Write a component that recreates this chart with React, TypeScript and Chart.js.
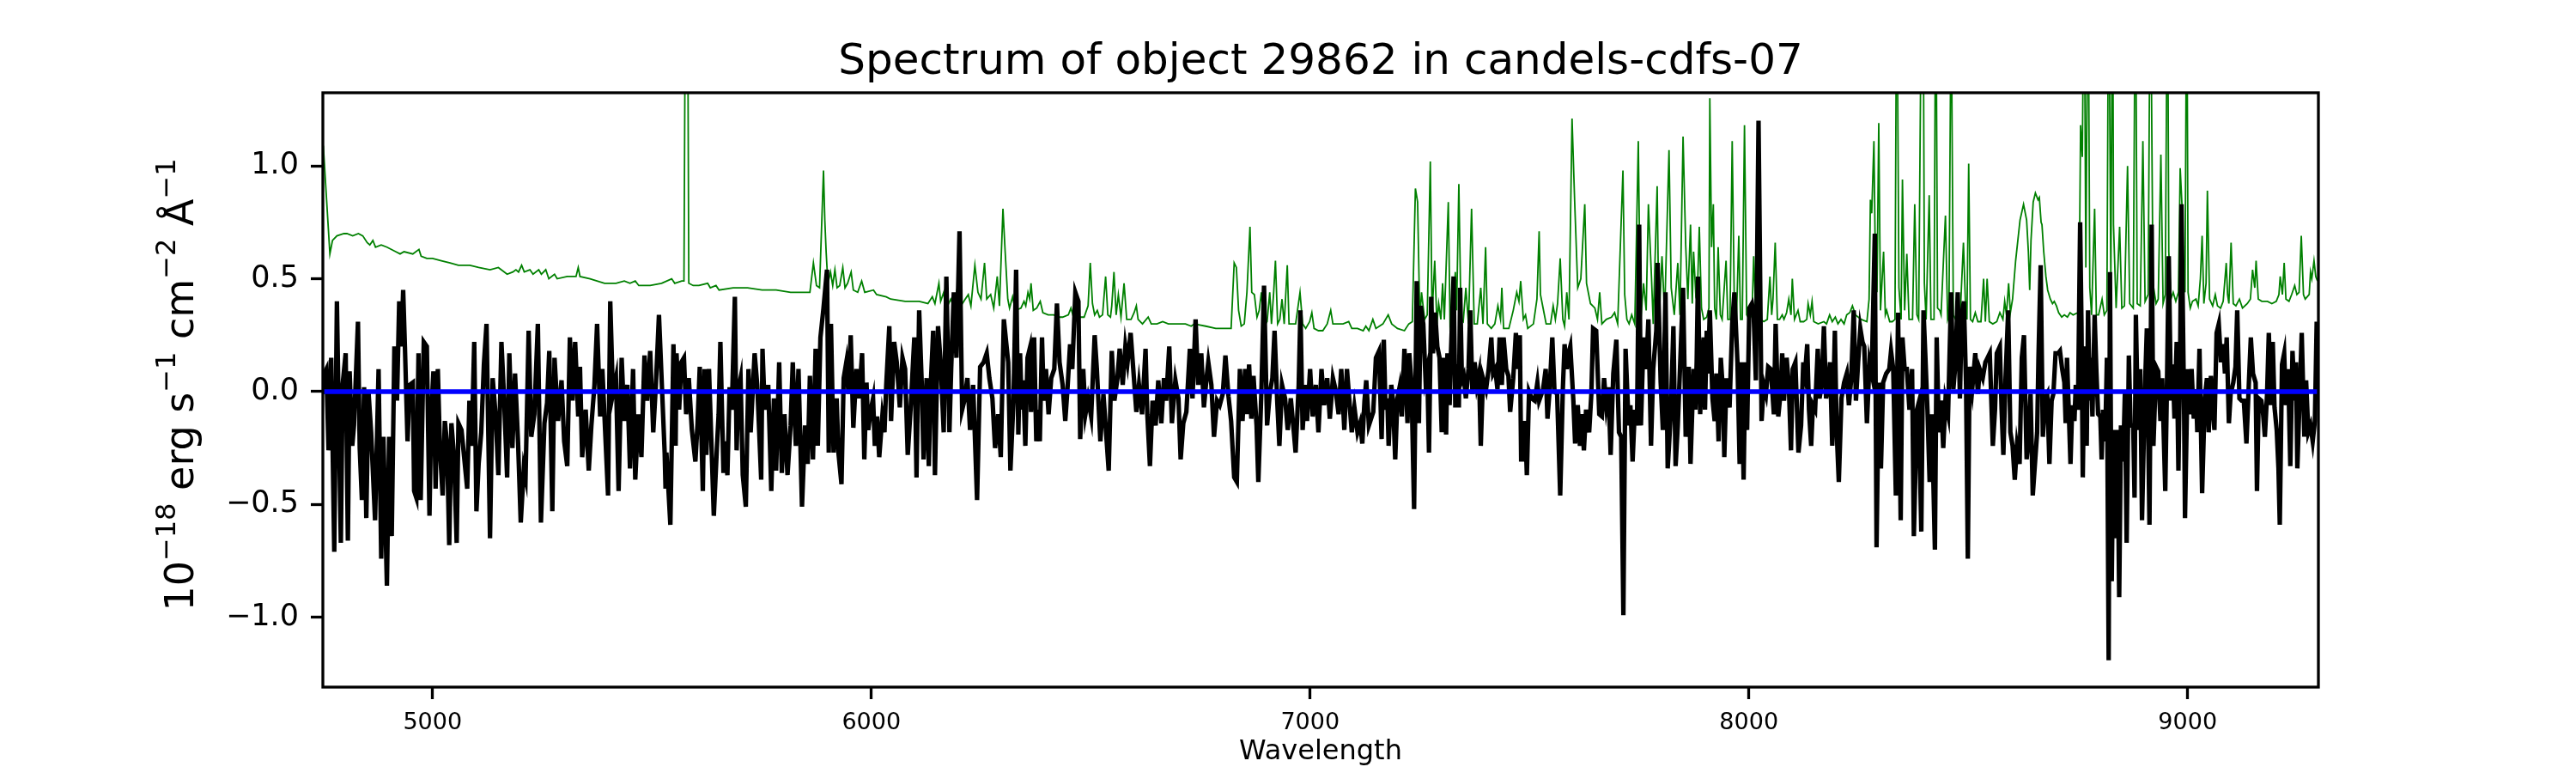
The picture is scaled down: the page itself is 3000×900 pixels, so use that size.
import { useEffect, useRef } from 'react';
import Chart from 'chart.js/auto';

const FONT = '"DejaVu Sans", sans-serif';

const TITLE = 'Spectrum of object 29862 in candels-cdfs-07';
const X_LABEL = 'Wavelength';
// y label pieces: [text, isSuperscript]
const Y_LABEL_PARTS: [string, boolean][] = [
  ['10', false],
  ['\u221218', true],
  [' erg s', false],
  ['\u22121', true],
  [' cm', false],
  ['\u22122', true],
  [' \u00c5', false],
  ['\u22121', true],
];

const X_MIN = 4750;
const X_MAX = 9298;
const Y_MIN = -1.309;
const Y_MAX = 1.324;

const X_TICKS = [5000, 6000, 7000, 8000, 9000];
const Y_TICKS = [-1.0, -0.5, 0.0, 0.5, 1.0];

// horizontal reference line at zero flux
const ZERO_LINE: [number, number][] = [
  [4750, 0],
  [9298, 0],
];

// object spectrum [wavelength, flux]
const SPECTRUM: [number, number][] = [
  [4751, -0.01], [4753, 0.08], [4758, 0.1], [4763, -0.26], [4769, 0.15], [4776, -0.71], [4782, 0.4],
  [4791, -0.67], [4795, 0.03], [4802, 0.17], [4807, -0.66], [4811, 0.09], [4817, -0.24], [4821, -0.15],
  [4830, 0.31], [4834, -0.25], [4839, -0.48], [4844, 0.02], [4849, -0.56], [4854, 0], [4860, -0.18],
  [4869, -0.57], [4877, 0.1], [4883, -0.74], [4888, -0.2], [4896, -0.86], [4901, -0.2], [4907, -0.64],
  [4913, 0.2], [4919, -0.04], [4924, 0.4], [4929, 0.2], [4933, 0.45], [4937, 0.2], [4943, -0.22],
  [4948, 0.03], [4955, 0.04], [4958, -0.44], [4963, -0.47], [4968, 0.17], [4973, -0.48], [4980, 0.22],
  [4987, 0.2], [4993, -0.55], [4997, -0.1], [5002, 0.09], [5007, -0.43], [5012, 0.1], [5017, -0.26],
  [5023, -0.46], [5028, -0.13], [5033, -0.23], [5038, -0.68], [5043, -0.14], [5049, -0.29], [5055, -0.67],
  [5059, -0.14], [5066, -0.17], [5072, -0.29], [5079, -0.43], [5084, -0.04], [5089, -0.24], [5095, 0.22],
  [5100, -0.53], [5105, -0.32], [5111, -0.18], [5117, 0.12], [5123, 0.3], [5131, -0.65], [5137, 0.06],
  [5144, -0.11], [5150, -0.37], [5157, 0.22], [5163, -0.03], [5170, -0.38], [5175, 0.17], [5182, -0.25],
  [5188, 0.08], [5195, -0.23], [5201, -0.58], [5208, -0.34], [5212, -0.38], [5219, 0.27], [5225, -0.2],
  [5232, -0.1], [5240, 0.3], [5247, -0.58], [5255, -0.14], [5261, -0.05], [5266, 0.18], [5273, -0.53],
  [5278, 0.15], [5286, -0.13], [5294, 0.05], [5300, -0.22], [5307, -0.33], [5313, 0.24], [5319, -0.04],
  [5325, 0.22], [5332, -0.11], [5336, 0.11], [5341, -0.29], [5349, -0.08], [5356, -0.35], [5362, -0.15],
  [5369, 0.03], [5375, 0.3], [5382, -0.11], [5387, 0.1], [5400, -0.46], [5405, 0.4], [5411, -0.01],
  [5418, 0.06], [5424, -0.44], [5431, 0.15], [5437, -0.13], [5444, 0.03], [5450, -0.34], [5457, 0.1],
  [5462, -0.39], [5469, -0.1], [5476, -0.29], [5483, 0.16], [5489, -0.04], [5496, 0.18], [5503, -0.18],
  [5509, 0.03], [5516, 0.34], [5529, -0.27], [5531, -0.43], [5533, -0.27], [5542, -0.59], [5549, 0.21],
  [5554, -0.24], [5556, 0.17], [5562, -0.08], [5567, 0.13], [5573, 0.15], [5578, -0.1], [5584, 0.06],
  [5591, -0.17], [5599, -0.31], [5604, -0.14], [5609, 0.11], [5616, -0.44], [5620, 0.1], [5624, -0.28],
  [5630, 0.1], [5641, -0.55], [5648, -0.25], [5652, -0.1], [5656, 0.22], [5663, -0.36], [5667, -0.22],
  [5672, -0.37], [5677, 0.02], [5682, -0.08], [5689, 0.42], [5693, -0.26], [5697, 0.01], [5702, 0.06],
  [5707, -0.37], [5714, -0.51], [5720, 0.1], [5725, -0.18], [5734, 0.17], [5740, 0.03], [5749, -0.39],
  [5752, 0.19], [5757, -0.08], [5765, 0.03], [5772, -0.44], [5778, -0.03], [5783, -0.35], [5790, 0.13],
  [5796, -0.36], [5802, -0.1], [5809, -0.37], [5816, -0.15], [5821, 0.13], [5828, -0.24], [5834, 0.1],
  [5842, -0.51], [5849, -0.15], [5855, -0.32], [5860, 0.07], [5867, -0.3], [5873, 0.19], [5878, -0.24],
  [5884, 0.24], [5891, 0.37], [5899, 0.54], [5903, -0.27], [5908, 0.3], [5914, -0.27], [5921, -0.03],
  [5925, -0.27], [5932, -0.41], [5937, 0.06], [5943, 0.13], [5948, -0.01], [5953, 0.25], [5959, -0.16],
  [5966, 0.1], [5972, -0.03], [5979, 0.17], [5984, -0.3], [5989, 0.04], [5993, -0.17], [5998, -0.09],
  [6004, -0.03], [6008, -0.24], [6013, -0.11], [6018, -0.29], [6025, -0.11], [6030, -0.18], [6034, 0.03],
  [6041, 0.29], [6045, -0.13], [6052, 0.22], [6058, 0.13], [6065, -0.07], [6071, 0.15], [6077, 0.1],
  [6083, -0.28], [6090, -0.06], [6098, 0.24], [6103, -0.38], [6109, 0.36], [6115, 0.03], [6119, -0.3],
  [6126, 0.06], [6131, -0.33], [6135, 0.01], [6141, 0.27], [6145, -0.37], [6152, 0.29], [6158, 0.13],
  [6165, -0.18], [6171, 0.51], [6178, -0.18], [6182, 0.1], [6188, 0.44], [6194, 0.15], [6201, 0.71],
  [6207, -0.08], [6212, -0.04], [6219, 0.06], [6225, -0.17], [6232, 0.03], [6241, -0.48], [6248, 0.11],
  [6256, 0.13], [6263, 0.17], [6269, 0.06], [6276, -0.03], [6282, -0.25], [6289, -0.1], [6295, -0.29],
  [6302, 0.32], [6312, 0.13], [6317, -0.35], [6324, -0.04], [6330, 0.54], [6335, -0.19], [6339, 0.17],
  [6343, -0.08], [6346, 0.05], [6351, -0.24], [6356, 0.15], [6361, 0.19], [6364, -0.09], [6371, 0.24],
  [6376, -0.22], [6379, -0.08], [6384, -0.22], [6389, 0.24], [6393, -0.04], [6398, 0.1], [6404, -0.1],
  [6410, 0.06], [6417, 0.1], [6423, 0.39], [6429, 0.13], [6436, 0.03], [6442, -0.13], [6447, 0.01],
  [6453, 0.21], [6458, 0.1], [6465, 0.44], [6472, 0.4], [6476, -0.21], [6483, 0.1], [6488, -0.1],
  [6494, -0.03], [6501, -0.11], [6509, 0.25], [6514, 0.1], [6522, -0.22], [6529, -0.01], [6535, -0.18],
  [6541, -0.35], [6548, 0.18], [6554, -0.04], [6561, 0.06], [6566, 0.19], [6573, 0.03], [6579, 0.2],
  [6584, 0.13], [6591, 0.26], [6597, 0.1], [6604, -0.09], [6610, 0.03], [6617, -0.1], [6625, 0.19],
  [6629, -0.1], [6635, -0.33], [6641, -0.04], [6648, -0.15], [6654, 0.05], [6661, -0.14], [6667, 0.06],
  [6672, -0.04], [6679, 0.2], [6685, -0.14], [6693, 0.05], [6700, -0.03], [6705, -0.3], [6711, -0.14],
  [6718, -0.09], [6726, 0.19], [6732, -0.03], [6739, 0.32], [6745, 0.03], [6752, 0.17], [6758, -0.07],
  [6764, 0.06], [6768, 0.13], [6775, 0.03], [6781, -0.2], [6788, -0.04], [6794, -0.06], [6801, -0.01],
  [6807, 0.16], [6814, -0.02], [6820, -0.13], [6827, -0.38], [6833, -0.4], [6840, 0.1], [6846, -0.13],
  [6852, 0.1], [6856, -0.1], [6861, 0.12], [6866, -0.12], [6871, 0.07], [6878, -0.15], [6882, -0.4],
  [6889, 0], [6895, 0.47], [6902, -0.15], [6908, -0.01], [6914, 0.06], [6919, 0.27], [6925, -0.04],
  [6930, -0.24], [6936, 0.03], [6943, -0.03], [6949, -0.17], [6956, -0.03], [6963, -0.18], [6967, -0.27],
  [6974, 0.03], [6978, 0.36], [6983, -0.17], [6989, 0.03], [6993, -0.13], [7000, 0.1], [7006, -0.11],
  [7013, 0.03], [7019, -0.18], [7026, 0.1], [7032, -0.06], [7039, 0.06], [7045, -0.12], [7052, 0.06],
  [7058, 0.01], [7065, -0.1], [7071, 0.1], [7078, -0.17], [7084, 0.1], [7095, -0.18], [7101, -0.07],
  [7108, -0.18], [7114, -0.14], [7119, -0.23], [7124, -0.04], [7128, 0.05], [7134, -0.15], [7144, -0.09],
  [7150, 0.15], [7157, 0.18], [7163, -0.21], [7168, 0.23], [7172, -0.08], [7176, -0.03], [7179, -0.24],
  [7185, 0.03], [7189, -0.04], [7194, -0.3], [7199, -0.03], [7204, 0.02], [7209, -0.11], [7215, 0.19],
  [7222, -0.14], [7226, 0.17], [7231, 0.04], [7237, -0.52], [7243, 0.49], [7248, -0.14], [7252, 0.38],
  [7258, 0.3], [7263, 0.06], [7267, 0.1], [7271, -0.27], [7276, 0.42], [7280, 0.17], [7285, 0.35],
  [7290, 0.2], [7295, 0.15], [7300, -0.18], [7305, 0.15], [7310, -0.19], [7313, 0.17], [7318, -0.06],
  [7321, 0.17], [7327, 0.51], [7331, -0.07], [7334, 0.12], [7339, -0.07], [7342, 0.46], [7346, 0.05],
  [7350, 0.07], [7355, -0.03], [7361, 0.1], [7365, 0.36], [7370, -0.01], [7375, 0.13], [7380, 0.03],
  [7385, 0.08], [7389, -0.24], [7394, 0.06], [7401, 0.01], [7407, 0.1], [7413, 0.24], [7417, 0.08],
  [7422, 0.1], [7427, 0.01], [7432, 0.24], [7437, 0.03], [7441, 0.24], [7447, 0.1], [7452, 0.07],
  [7456, -0.09], [7463, 0.06], [7469, 0.26], [7474, 0.1], [7478, 0.25], [7481, -0.3], [7486, -0.3],
  [7490, -0.13], [7494, -0.37], [7499, 0], [7505, -0.03], [7512, -0.04], [7518, 0.04], [7522, -0.04],
  [7531, 0.01], [7537, 0.1], [7541, -0.12], [7546, 0.01], [7552, 0.24], [7557, 0], [7563, -0.01],
  [7570, -0.46], [7576, 0.01], [7580, 0.21], [7585, 0.1], [7589, 0.17], [7593, 0.2], [7600, -0.04],
  [7604, -0.23], [7610, -0.06], [7615, -0.24], [7619, -0.1], [7624, -0.26], [7629, -0.08], [7636, -0.18],
  [7641, -0.01], [7645, 0.28], [7652, 0.27], [7659, -0.1], [7665, -0.11], [7670, 0.06], [7675, -0.06],
  [7680, 0.02], [7685, -0.28], [7691, 0.08], [7698, 0.23], [7704, -0.18], [7709, -0.2], [7714, -0.99],
  [7719, 0.19], [7726, -0.15], [7730, -0.06], [7735, -0.31], [7740, -0.08], [7745, -0.15], [7750, 0.74],
  [7754, -0.15], [7760, 0.24], [7766, 0.1], [7771, 0.32], [7777, -0.24], [7782, 0.1], [7789, 0.27],
  [7792, 0.57], [7799, 0.04], [7804, -0.17], [7810, 0.44], [7815, -0.34], [7822, -0.1], [7828, 0.29],
  [7833, -0.33], [7838, -0.15], [7843, 0.1], [7850, 0.46], [7856, -0.2], [7863, 0.11], [7867, -0.32],
  [7874, 0.1], [7878, -0.08], [7881, 0.13], [7884, 0.51], [7889, -0.1], [7894, 0.15], [7897, 0.24],
  [7900, -0.08], [7904, 0.27], [7907, 0.08], [7911, 0.36], [7917, -0.03], [7922, -0.13], [7926, 0.08],
  [7931, -0.22], [7936, 0.15], [7941, 0], [7944, -0.29], [7949, 0.06], [7956, -0.07], [7962, 0.3],
  [7967, 0.44], [7974, 0.13], [7979, -0.32], [7983, 0.13], [7988, -0.39], [7992, 0.13], [7996, -0.17],
  [8001, 0.37], [8007, 0.39], [8011, 0.34], [8016, 0.05], [8022, 1.2], [8029, -0.13], [8034, 0.03],
  [8039, -0.01], [8044, 0.11], [8050, 0.1], [8057, -0.1], [8061, 0.3], [8067, -0.11], [8072, -0.01],
  [8076, 0.17], [8080, -0.04], [8086, 0.15], [8091, 0.03], [8096, -0.26], [8100, 0.1], [8106, 0.13],
  [8113, -0.27], [8119, -0.15], [8124, 0.13], [8128, 0.08], [8133, 0.21], [8137, -0.08], [8142, -0.24],
  [8146, -0.06], [8151, -0.08], [8157, 0.19], [8161, -0.03], [8166, 0.03], [8171, 0.29], [8176, -0.03],
  [8181, 0.03], [8185, 0.13], [8190, -0.24], [8196, 0.27], [8200, -0.17], [8205, -0.4], [8211, -0.03],
  [8217, 0.04], [8223, 0.08], [8228, -0.06], [8233, 0.05], [8239, 0.36], [8244, -0.04], [8249, 0.13],
  [8254, 0.28], [8259, 0.22], [8263, 0.2], [8269, -0.14], [8275, 0.13], [8280, 0.08], [8287, 0.7],
  [8291, -0.69], [8296, 0.04], [8301, -0.34], [8306, 0.04], [8313, 0.08], [8320, 0.1], [8324, 0.18],
  [8329, 0.1], [8335, -0.46], [8340, 0.35], [8346, -0.57], [8350, 0.24], [8355, 0.1], [8360, 0.1],
  [8366, -0.08], [8372, 0.1], [8376, -0.64], [8383, -0.08], [8387, -0.05], [8393, -0.62], [8398, 0.36],
  [8402, 0.17], [8407, -0.08], [8412, -0.4], [8417, -0.1], [8424, -0.7], [8428, 0.24], [8433, -0.18],
  [8438, -0.04], [8443, -0.25], [8448, -0.04], [8454, -0.1], [8461, 0.44], [8466, 0.01], [8471, 0.13],
  [8476, 0.44], [8481, -0.03], [8485, 0.34], [8490, 0.4], [8495, 0.03], [8499, -0.74], [8503, 0.11],
  [8509, 0.01], [8513, 0.1], [8516, 0.17], [8522, -0.01], [8526, 0.1], [8533, 0.06], [8539, 0.13],
  [8544, 0.15], [8549, 0.17], [8556, -0.24], [8561, -0.08], [8565, 0.17], [8572, 0.2], [8576, -0.08],
  [8580, -0.28], [8585, 0.06], [8591, 0.36], [8596, -0.18], [8601, -0.24], [8606, -0.39], [8611, -0.24],
  [8617, -0.32], [8622, 0.15], [8627, 0.25], [8633, -0.3], [8637, -0.22], [8642, -0.01], [8647, -0.46],
  [8657, -0.18], [8660, 0.15], [8665, 0.56], [8670, -0.2], [8675, -0.03], [8680, -0.01], [8685, -0.32],
  [8690, -0.04], [8694, -0.01], [8699, 0.17], [8705, 0.17], [8709, 0.18], [8714, 0.1], [8719, 0.04],
  [8722, -0.14], [8725, 0.15], [8729, -0.08], [8733, -0.32], [8737, -0.06], [8742, -0.13], [8745, 0.03],
  [8750, -0.08], [8755, 0.75], [8758, 0.3], [8761, -0.38], [8765, 0.2], [8770, -0.24], [8773, 0.36],
  [8777, -0.04], [8779, 0.15], [8783, -0.11], [8788, 0.34], [8792, 0.09], [8796, -0.1], [8801, -0.11],
  [8804, -0.3], [8807, -0.08], [8812, -0.22], [8816, 0.15], [8820, -1.19], [8823, 0.53], [8827, -0.84],
  [8831, -0.17], [8836, -0.65], [8840, -0.17], [8844, -0.91], [8848, -0.15], [8853, -0.31], [8857, 0],
  [8861, -0.67], [8866, 0.16], [8870, -0.15], [8876, -0.15], [8879, -0.47], [8882, 0.34], [8887, -0.17],
  [8892, 0.1], [8896, -0.57], [8902, -0.03], [8907, 0.28], [8913, -0.59], [8918, 0.74], [8922, -0.24],
  [8928, 0.11], [8933, 0.09], [8938, -0.13], [8942, 0.06], [8949, -0.44], [8953, 0.05], [8957, 0.6],
  [8962, -0.04], [8966, 0.12], [8970, -0.12], [8975, 0.22], [8979, -0.35], [8983, 0.19], [8986, 0.83],
  [8992, -0.1], [8994, -0.56], [9000, 0.1], [9005, -0.1], [9009, 0.1], [9014, -0.12], [9019, 0.01],
  [9022, -0.18], [9027, 0.19], [9033, -0.45], [9039, -0.03], [9044, 0.06], [9048, -0.18], [9053, 0.07],
  [9057, -0.06], [9061, -0.17], [9066, 0.26], [9071, 0.3], [9076, 0.13], [9081, 0.21], [9085, 0.08],
  [9089, 0.24], [9094, -0.14], [9098, -0.01], [9104, 0.04], [9109, 0.11], [9113, 0.36], [9118, -0.03],
  [9123, -0.04], [9128, -0.04], [9134, -0.23], [9140, 0.06], [9144, 0.24], [9149, 0.08], [9155, 0.04],
  [9158, -0.44], [9162, -0.03], [9168, -0.04], [9172, -0.1], [9176, -0.2], [9181, -0.01], [9185, 0.26],
  [9190, -0.06], [9194, 0.22], [9198, -0.07], [9203, -0.17], [9207, -0.34], [9210, -0.59], [9215, 0.12],
  [9220, 0.17], [9224, -0.06], [9229, 0.1], [9234, -0.33], [9239, 0.18], [9244, -0.04], [9247, 0.13],
  [9250, -0.34], [9255, -0.04], [9260, 0.26], [9266, -0.2], [9270, 0.05], [9275, -0.18], [9280, -0.15],
  [9285, -0.22], [9290, -0.13], [9294, 0.3], [9298, 0.3],
];

// sky / noise spectrum [wavelength, flux]
const SKY: [number, number][] = [
  [4751, 1.09], [4766, 0.61], [4772, 0.67], [4782, 0.69], [4798, 0.7], [4805, 0.7], [4818, 0.69],
  [4831, 0.7], [4841, 0.69], [4851, 0.66], [4857, 0.65], [4864, 0.67], [4870, 0.64], [4883, 0.65],
  [4896, 0.64], [4916, 0.62], [4926, 0.61], [4935, 0.62], [4955, 0.61], [4969, 0.63], [4974, 0.6],
  [4987, 0.59], [5000, 0.59], [5020, 0.58], [5040, 0.57], [5059, 0.56], [5085, 0.56], [5105, 0.55],
  [5131, 0.54], [5150, 0.55], [5170, 0.52], [5183, 0.53], [5190, 0.54], [5196, 0.53], [5203, 0.56],
  [5209, 0.53], [5222, 0.54], [5229, 0.52], [5242, 0.54], [5248, 0.52], [5258, 0.54], [5265, 0.5],
  [5278, 0.52], [5284, 0.5], [5307, 0.51], [5327, 0.51], [5332, 0.55], [5336, 0.51], [5359, 0.5],
  [5392, 0.48], [5418, 0.48], [5437, 0.49], [5450, 0.48], [5462, 0.49], [5470, 0.47], [5496, 0.47],
  [5522, 0.48], [5545, 0.5], [5552, 0.48], [5568, 0.49], [5573, 0.49], [5579, 3.0], [5584, 0.48],
  [5594, 0.47], [5607, 0.47], [5627, 0.48], [5633, 0.46], [5646, 0.47], [5653, 0.45], [5685, 0.46],
  [5718, 0.46], [5751, 0.45], [5783, 0.45], [5816, 0.44], [5860, 0.44], [5868, 0.57], [5875, 0.47],
  [5882, 0.46], [5891, 0.98], [5894, 0.76], [5897, 0.62], [5901, 0.48], [5907, 0.53], [5912, 0.47],
  [5917, 0.54], [5922, 0.46], [5928, 0.47], [5935, 0.55], [5940, 0.46], [5946, 0.48], [5954, 0.53],
  [5959, 0.45], [5969, 0.44], [5978, 0.49], [5985, 0.44], [6005, 0.45], [6012, 0.43], [6034, 0.42],
  [6044, 0.41], [6077, 0.4], [6109, 0.4], [6129, 0.39], [6139, 0.42], [6145, 0.39], [6154, 0.48],
  [6158, 0.4], [6165, 0.44], [6169, 0.37], [6174, 0.38], [6181, 0.41], [6187, 0.38], [6194, 0.44],
  [6201, 0.37], [6214, 0.41], [6221, 0.43], [6227, 0.38], [6236, 0.56], [6243, 0.44], [6250, 0.41],
  [6258, 0.57], [6263, 0.41], [6272, 0.43], [6279, 0.37], [6287, 0.51], [6292, 0.38], [6300, 0.81],
  [6305, 0.62], [6311, 0.41], [6315, 0.37], [6322, 0.42], [6328, 0.36], [6341, 0.37], [6348, 0.4],
  [6352, 0.38], [6357, 0.44], [6361, 0.41], [6364, 0.48], [6369, 0.36], [6377, 0.37], [6385, 0.4],
  [6391, 0.35], [6403, 0.34], [6416, 0.34], [6423, 0.33], [6436, 0.33], [6449, 0.34], [6455, 0.37],
  [6462, 0.32], [6475, 0.33], [6485, 0.33], [6494, 0.38], [6499, 0.57], [6504, 0.39], [6509, 0.34],
  [6515, 0.36], [6520, 0.33], [6527, 0.34], [6534, 0.51], [6539, 0.34], [6545, 0.33], [6548, 0.38],
  [6553, 0.53], [6558, 0.34], [6563, 0.43], [6569, 0.33], [6576, 0.48], [6582, 0.32], [6592, 0.32],
  [6599, 0.35], [6604, 0.38], [6608, 0.32], [6618, 0.3], [6631, 0.33], [6638, 0.3], [6651, 0.3],
  [6664, 0.31], [6677, 0.3], [6697, 0.3], [6716, 0.3], [6729, 0.29], [6736, 0.3], [6762, 0.29],
  [6785, 0.28], [6801, 0.28], [6820, 0.28], [6827, 0.57], [6832, 0.55], [6837, 0.36], [6843, 0.29],
  [6850, 0.3], [6856, 0.44], [6863, 0.73], [6867, 0.44], [6873, 0.43], [6879, 0.33], [6884, 0.36],
  [6889, 0.44], [6895, 0.29], [6902, 0.31], [6908, 0.44], [6912, 0.3], [6917, 0.44], [6921, 0.58],
  [6926, 0.3], [6931, 0.32], [6936, 0.41], [6941, 0.3], [6948, 0.56], [6952, 0.3], [6957, 0.3],
  [6967, 0.3], [6977, 0.44], [6983, 0.3], [6990, 0.28], [6999, 0.31], [7004, 0.35], [7009, 0.28],
  [7019, 0.27], [7029, 0.27], [7039, 0.3], [7047, 0.36], [7052, 0.3], [7062, 0.3], [7075, 0.3],
  [7088, 0.31], [7095, 0.28], [7108, 0.28], [7121, 0.27], [7127, 0.29], [7134, 0.27], [7143, 0.32],
  [7150, 0.28], [7166, 0.3], [7178, 0.34], [7186, 0.3], [7199, 0.28], [7215, 0.27], [7225, 0.3],
  [7233, 0.31], [7240, 0.9], [7245, 0.84], [7250, 0.32], [7254, 0.44], [7261, 0.32], [7267, 0.34],
  [7274, 1.02], [7278, 0.34], [7284, 0.58], [7289, 0.3], [7293, 0.39], [7298, 0.32], [7302, 0.48],
  [7306, 0.32], [7315, 0.84], [7319, 0.3], [7326, 0.37], [7331, 0.53], [7334, 0.36], [7339, 0.92],
  [7344, 0.32], [7349, 0.31], [7355, 0.46], [7361, 0.3], [7368, 0.81], [7374, 0.3], [7381, 0.3],
  [7389, 0.46], [7394, 0.3], [7400, 0.64], [7404, 0.3], [7413, 0.28], [7421, 0.3], [7428, 0.38],
  [7434, 0.32], [7437, 0.46], [7441, 0.28], [7453, 0.28], [7463, 0.36], [7471, 0.44], [7476, 0.4],
  [7480, 0.49], [7486, 0.32], [7491, 0.34], [7496, 0.28], [7509, 0.3], [7517, 0.41], [7522, 0.71],
  [7525, 0.43], [7531, 0.37], [7538, 0.3], [7548, 0.3], [7554, 0.38], [7559, 0.32], [7564, 0.39],
  [7570, 0.59], [7576, 0.32], [7580, 0.29], [7585, 0.44], [7590, 0.32], [7597, 1.21], [7603, 0.84],
  [7610, 0.46], [7617, 0.5], [7626, 0.83], [7630, 0.48], [7639, 0.39], [7649, 0.37], [7655, 0.32],
  [7660, 0.44], [7665, 0.3], [7675, 0.32], [7687, 0.33], [7694, 0.35], [7701, 0.3], [7713, 0.98],
  [7717, 0.43], [7722, 0.32], [7727, 0.3], [7733, 0.34], [7740, 0.3], [7748, 1.11], [7753, 0.3],
  [7760, 0.48], [7766, 0.36], [7771, 0.83], [7778, 0.51], [7782, 0.3], [7791, 0.91], [7795, 0.3],
  [7802, 0.6], [7808, 0.34], [7818, 1.07], [7823, 0.46], [7830, 0.34], [7838, 0.57], [7843, 0.34],
  [7850, 1.13], [7856, 0.65], [7861, 0.41], [7867, 0.74], [7871, 0.39], [7874, 0.62], [7879, 0.43],
  [7883, 0.46], [7887, 0.73], [7892, 0.37], [7897, 0.32], [7904, 0.33], [7909, 0.37], [7911, 1.3],
  [7915, 0.64], [7919, 0.83], [7922, 0.37], [7926, 0.32], [7930, 0.64], [7935, 0.34], [7939, 0.32],
  [7948, 0.58], [7952, 0.32], [7957, 0.32], [7962, 1.11], [7967, 0.37], [7972, 0.34], [7977, 0.69],
  [7981, 0.32], [7985, 0.32], [7990, 1.18], [7995, 0.34], [8001, 0.32], [8007, 0.34], [8011, 0.6],
  [8016, 0.32], [8020, 0.33], [8024, 0.53], [8027, 0.32], [8034, 0.31], [8042, 0.32], [8048, 0.51],
  [8052, 0.34], [8055, 0.41], [8060, 0.66], [8065, 0.32], [8070, 0.32], [8076, 0.34], [8080, 0.32],
  [8086, 0.35], [8091, 0.41], [8096, 0.34], [8099, 0.5], [8104, 0.32], [8112, 0.36], [8117, 0.31],
  [8125, 0.31], [8132, 0.32], [8135, 0.39], [8140, 0.34], [8144, 0.4], [8148, 0.31], [8158, 0.3],
  [8171, 0.31], [8177, 0.3], [8184, 0.34], [8190, 0.31], [8197, 0.33], [8203, 0.3], [8210, 0.32],
  [8217, 0.3], [8223, 0.34], [8230, 0.35], [8236, 0.38], [8243, 0.34], [8256, 0.32], [8269, 0.31],
  [8274, 0.41], [8277, 0.85], [8280, 0.79], [8285, 1.11], [8288, 0.62], [8292, 0.44], [8296, 1.19],
  [8300, 0.36], [8307, 0.62], [8311, 0.34], [8314, 0.36], [8321, 0.31], [8327, 0.31], [8333, 0.32],
  [8337, 2.0], [8342, 0.46], [8347, 0.32], [8350, 0.94], [8355, 0.36], [8360, 0.61], [8365, 0.32],
  [8373, 0.32], [8378, 0.83], [8383, 0.34], [8387, 0.32], [8396, 2.5], [8400, 0.48], [8404, 0.32],
  [8411, 0.87], [8415, 0.32], [8422, 0.32], [8426, 2.0], [8430, 0.37], [8435, 0.36], [8438, 0.34],
  [8443, 0.56], [8448, 0.78], [8453, 0.32], [8456, 0.34], [8461, 1.8], [8466, 0.34], [8471, 0.32],
  [8481, 0.31], [8489, 0.66], [8494, 0.37], [8497, 0.32], [8501, 1.01], [8505, 0.32], [8510, 0.31],
  [8516, 0.35], [8522, 0.31], [8529, 0.31], [8535, 0.5], [8539, 0.31], [8543, 0.5], [8548, 0.31],
  [8556, 0.3], [8565, 0.31], [8572, 0.35], [8579, 0.32], [8583, 0.4], [8587, 0.34], [8592, 0.48],
  [8596, 0.35], [8601, 0.41], [8608, 0.58], [8618, 0.76], [8626, 0.83], [8633, 0.76], [8637, 0.62],
  [8640, 0.45], [8643, 0.67], [8648, 0.84], [8653, 0.88], [8659, 0.85], [8662, 0.86], [8666, 0.75],
  [8668, 0.74], [8672, 0.62], [8677, 0.51], [8681, 0.45], [8687, 0.41], [8692, 0.39], [8696, 0.4],
  [8701, 0.38], [8706, 0.35], [8713, 0.33], [8719, 0.34], [8726, 0.33], [8732, 0.35], [8739, 0.34],
  [8750, 0.35], [8753, 0.5], [8756, 1.18], [8760, 1.04], [8764, 2.0], [8768, 0.55], [8773, 2.0],
  [8777, 0.46], [8781, 0.34], [8788, 0.81], [8792, 0.34], [8797, 0.34], [8805, 0.41], [8810, 0.34],
  [8816, 0.36], [8820, 2.0], [8825, 0.48], [8829, 2.0], [8831, 0.74], [8837, 0.37], [8845, 0.73],
  [8850, 0.37], [8856, 0.38], [8863, 1.0], [8868, 0.39], [8876, 0.37], [8881, 2.0], [8885, 0.39],
  [8892, 0.38], [8898, 1.11], [8903, 0.4], [8910, 0.43], [8915, 2.0], [8921, 0.48], [8928, 0.39],
  [8933, 0.41], [8939, 1.05], [8944, 0.39], [8949, 0.43], [8954, 2.0], [8957, 0.62], [8962, 0.41],
  [8967, 0.44], [8973, 0.4], [8979, 0.44], [8983, 0.99], [8987, 0.83], [8990, 0.5], [8994, 0.44],
  [8998, 2.0], [9001, 0.44], [9006, 0.37], [9011, 0.4], [9019, 0.41], [9024, 0.38], [9029, 0.5],
  [9033, 0.69], [9037, 0.39], [9042, 0.48], [9045, 0.89], [9050, 0.41], [9057, 0.38], [9063, 0.43],
  [9068, 0.38], [9075, 0.37], [9081, 0.4], [9088, 0.57], [9091, 0.43], [9094, 0.39], [9099, 0.66],
  [9104, 0.39], [9110, 0.38], [9118, 0.41], [9125, 0.37], [9136, 0.39], [9143, 0.41], [9148, 0.54],
  [9153, 0.46], [9156, 0.58], [9161, 0.41], [9169, 0.4], [9182, 0.4], [9192, 0.39], [9202, 0.4],
  [9208, 0.43], [9211, 0.51], [9216, 0.43], [9220, 0.57], [9224, 0.41], [9231, 0.4], [9237, 0.43],
  [9244, 0.47], [9249, 0.43], [9254, 0.44], [9259, 0.69], [9264, 0.43], [9268, 0.41], [9277, 0.43],
  [9280, 0.53], [9283, 0.5], [9288, 0.58], [9292, 0.51], [9296, 0.49],
];

const toPoints = (rows: [number, number][]) => rows.map(([x, y]) => ({ x, y }));

const formatTick = (v: number) => v.toFixed(1).replace('-', '\u2212');

// frame round the plot plus title and axis labels, matplotlib style
const decorations = {
  id: 'decorations',
  afterDatasetsDraw(chart: Chart) {
    const { ctx, chartArea: a } = chart;
    ctx.save();
    ctx.strokeStyle = '#000';
    ctx.lineWidth = 3.3;
    ctx.strokeRect(a.left, a.top, a.right - a.left, a.bottom - a.top);
    ctx.restore();
  },
  afterDraw(chart: Chart) {
    const { ctx, chartArea: a } = chart;
    const cx = (a.left + a.right) / 2;
    ctx.save();
    ctx.fillStyle = '#000';
    ctx.textBaseline = 'alphabetic';

    ctx.textAlign = 'center';
    ctx.font = `50px ${FONT}`;
    ctx.fillText(TITLE, cx, 86);

    ctx.font = `32px ${FONT}`;
    ctx.fillText(X_LABEL, cx, 884);

    // rotated y label with superscripts
    const mainFont = `46px ${FONT}`;
    const supFont = `32px ${FONT}`;
    let total = 0;
    for (const [text, sup] of Y_LABEL_PARTS) {
      ctx.font = sup ? supFont : mainFont;
      total += ctx.measureText(text).width;
    }
    ctx.translate(225, 448);
    ctx.rotate(-Math.PI / 2);
    ctx.textAlign = 'left';
    let x = -total / 2;
    for (const [text, sup] of Y_LABEL_PARTS) {
      ctx.font = sup ? supFont : mainFont;
      ctx.fillText(text, x, sup ? -21 : 0);
      x += ctx.measureText(text).width;
    }
    ctx.restore();
  },
};

export default function App() {
  const canvasRef = useRef<HTMLCanvasElement | null>(null);

  useEffect(() => {
    const canvas = canvasRef.current;
    if (!canvas) return;

    const line = (data: [number, number][], color: string, width: number, order: number) => ({
      data: toPoints(data),
      borderColor: color,
      backgroundColor: color,
      borderWidth: width,
      pointRadius: 0,
      tension: 0,
      fill: false,
      clip: 0,
      order,
    });

    const chart = new Chart(canvas, {
      type: 'line',
      data: {
        datasets: [
          line(ZERO_LINE, '#0000ff', 5.5, 0),
          line(SPECTRUM, '#000000', 5.2, 1),
          line(SKY, '#008000', 1.8, 2),
        ],
      },
      options: {
        responsive: false,
        animation: false,
        devicePixelRatio: 1,
        parsing: false,
        layout: { padding: { left: 226, right: 300, top: 108, bottom: 0 } },
        plugins: {
          legend: { display: false },
          tooltip: { enabled: false },
          title: { display: false },
        },
        scales: {
          x: {
            type: 'linear',
            min: X_MIN,
            max: X_MAX,
            afterBuildTicks: (scale) => {
              scale.ticks = X_TICKS.map((value) => ({ value }));
            },
            afterFit: (scale) => {
              scale.height = 100;
            },
            border: { display: false },
            grid: {
              display: true,
              drawOnChartArea: false,
              drawTicks: true,
              tickLength: 14,
              tickWidth: 3.3,
              tickColor: '#000',
            },
            ticks: {
              color: '#000',
              padding: 12,
              autoSkip: false,
              maxRotation: 0,
              font: { family: FONT, size: 27 },
              callback: (v) => String(v),
            },
          },
          y: {
            type: 'linear',
            min: Y_MIN,
            max: Y_MAX,
            afterBuildTicks: (scale) => {
              scale.ticks = Y_TICKS.map((value) => ({ value }));
            },
            afterFit: (scale) => {
              scale.width = 150;
            },
            border: { display: false },
            grid: {
              display: true,
              drawOnChartArea: false,
              drawTicks: true,
              tickLength: 14,
              tickWidth: 3.3,
              tickColor: '#000',
            },
            ticks: {
              color: '#000',
              padding: 14,
              autoSkip: false,
              font: { family: FONT, size: 35 },
              callback: (v) => formatTick(Number(v)),
            },
          },
        },
      },
      plugins: [decorations],
    });

    return () => {
      chart.destroy();
    };
  }, []);

  return (
    <div style={{ position: 'fixed', left: 0, top: 0, width: 3000, height: 900, background: '#fff' }}>
      <canvas ref={canvasRef} width={3000} height={900} style={{ display: 'block', width: 3000, height: 900 }} />
    </div>
  );
}
